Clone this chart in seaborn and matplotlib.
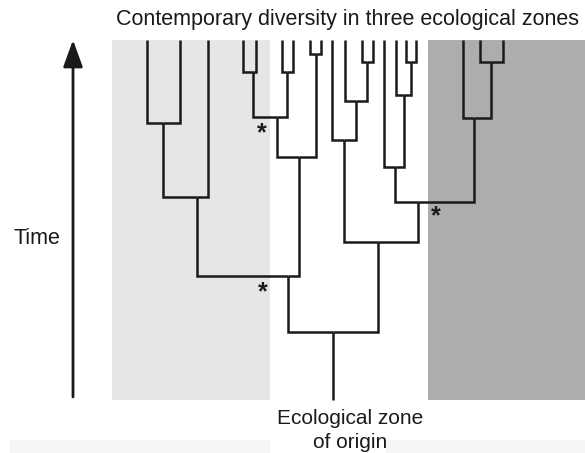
import pandas as pd
import matplotlib.pyplot as plt
import seaborn as sns
from matplotlib.patches import Rectangle

# tips (contemporary lineages), x position along the zones
tip_names = ["a1", "a2", "a3",
             "b1", "b2", "b3", "b4", "b5", "b6",
             "c1", "c2", "c3", "c4",
             "d1", "d2", "d3", "d4",
             "e1", "e2", "e3"]
tip_x = [147, 180, 208,
         243, 256, 282, 293, 310, 321,
         332, 345, 362, 373,
         384, 396, 406, 416,
         463, 480, 503]
tip_time = 360

# internal nodes: name, x, time of split, children
node_names = ["nA1", "nA", "nB1", "nB2", "nB3", "nB4", "nB", "nAB",
              "nC1", "nC2", "nC", "nD1", "nD2", "nD3", "nE1", "nE",
              "nDE", "nCDE", "root"]
node_x = [163, 197, 253, 287, 277, 316, 299, 288,
          367, 356, 344, 411, 404, 395, 491, 474,
          418, 378, 333]
node_time = [277, 203, 328, 328, 283, 346, 243, 124,
             338, 299, 260, 338, 305, 233, 338, 282,
             198, 158, 68]
node_children = [("a1", "a2"), ("nA1", "a3"), ("b1", "b2"), ("b3", "b4"),
                 ("nB1", "nB2"), ("b5", "b6"), ("nB3", "nB4"), ("nA", "nB"),
                 ("c3", "c4"), ("c2", "nC1"), ("c1", "nC2"), ("d3", "d4"),
                 ("d2", "nD1"), ("d1", "nD2"), ("e2", "e3"), ("e1", "nE1"),
                 ("nD3", "nE"), ("nC", "nDE"), ("nAB", "nCDE")]
root_time = 0

# shifts of ecological zone (marked with asterisks): x, time
shift_x = [262, 263, 436]
shift_time = [267, 108, 184]

# three ecological zones
zone_edges = [112, 270, 428, 585]
zone_colors = ["#e6e6e6", "#ffffff", "#adadad"]

pos = {n: (x, tip_time) for n, x in zip(tip_names, tip_x)}
for n, x, t in zip(node_names, node_x, node_time):
    pos[n] = (x, t)

rows = []
seg = 0
for n, kids in zip(node_names, node_children):
    px, pt = pos[n]
    for k in kids:
        kx, kt = pos[k]
        for x, t in [(kx, kt), (kx, pt), (px, pt)]:
            rows.append({"seg": seg, "x": x, "t": t})
        seg += 1
rx, rt = pos["root"]
rows.append({"seg": seg, "x": rx, "t": rt})
rows.append({"seg": seg, "x": rx, "t": root_time})
df = pd.DataFrame(rows)

sns.set_theme(style="white")
plt.rcParams["font.family"] = ["Liberation Sans", "DejaVu Sans"]

fig = plt.figure(figsize=(5.85, 4.53), dpi=100)
ax = fig.add_axes([0, 0, 1, 1])

for i, c in enumerate(zone_colors):
    ax.add_patch(Rectangle((zone_edges[i], root_time), zone_edges[i + 1] - zone_edges[i],
                           tip_time - root_time, color=c, lw=0, zorder=0))
# faint strip at the bottom
ax.add_patch(Rectangle((10, -53), 260, 13, color="#f6f6f6", lw=0, zorder=0))
ax.add_patch(Rectangle((386, -53), 199, 13, color="#f6f6f6", lw=0, zorder=0))

sns.lineplot(data=df, x="x", y="t", units="seg", estimator=None, sort=False,
             color="#1a1a1a", lw=1.8, ax=ax, legend=False)
for line in ax.get_lines():
    line.set_solid_joinstyle("miter")
    line.set_solid_capstyle("butt")

for x, t in zip(shift_x, shift_time):
    ax.text(x, t, "*", ha="center", va="center", fontsize=18,
            fontweight="bold", color="#1a1a1a")

ax.annotate("", xy=(73, 360), xytext=(73, 3),
            arrowprops=dict(arrowstyle="-|>,head_width=0.4,head_length=1.1",
                            lw=2.0, color="#1a1a1a", mutation_scale=15,
                            shrinkA=0, shrinkB=0))

ax.text(348, 381, "Contemporary diversity in three ecological zones",
        ha="center", va="center", fontsize=15.5, color="#1a1a1a")
ax.text(37, 162, "Time", ha="center", va="center", fontsize=15.5, color="#1a1a1a")
ax.text(350, -19, "Ecological zone", ha="center", va="center", fontsize=15, color="#1a1a1a")
ax.text(350, -42, "of origin", ha="center", va="center", fontsize=15, color="#1a1a1a")

ax.set_xlim(0, 585)
ax.set_ylim(-53, 400)
ax.set_xlabel("")
ax.set_ylabel("")
ax.axis("off")

fig.savefig("out.png", dpi=100)
